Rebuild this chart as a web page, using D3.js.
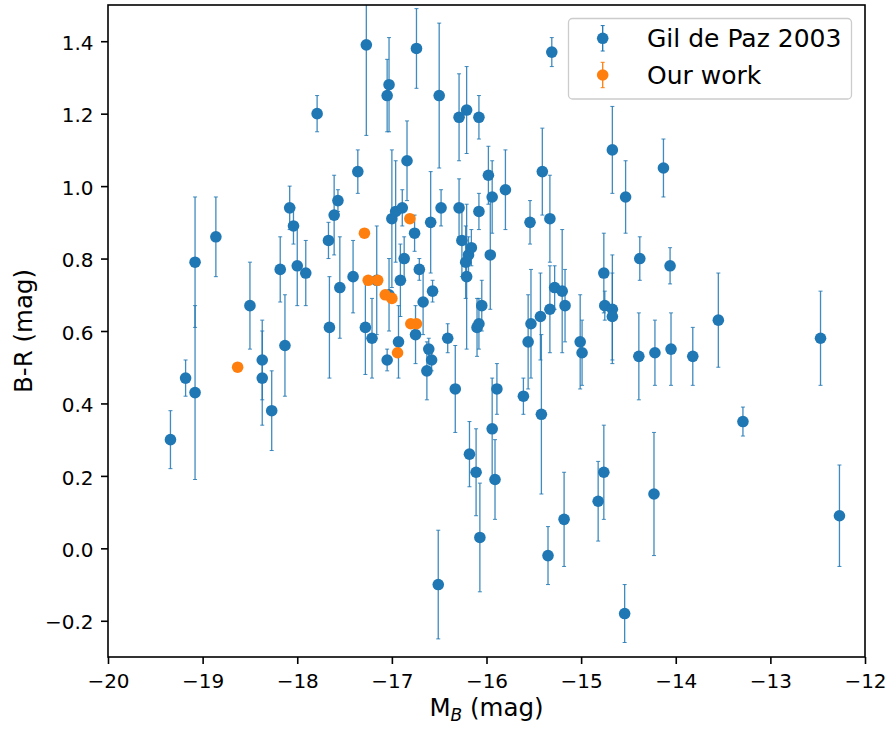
<!DOCTYPE html>
<html>
<head>
<meta charset="utf-8">
<script src="https://cdn.jsdelivr.net/npm/d3@7"></script>
<style>
  body { margin: 0; background: #fff; }
  text { font-family: "DejaVu Sans", sans-serif; fill: #000; }
</style>
</head>
<body>
<div id="chart"></div>
<script>
// Gil de Paz 2003 sample: absolute B magnitude, B-R colour and its error
const gilMB = [-19.34, -19.18, -19.08, -19.08, -18.86, -18.50, -18.37, -18.37, -18.27, -18.13,
  -18.18, -18.08, -18.04, -18.00, -17.91, -17.79, -17.67, -17.66, -17.61, -17.57,
  -17.55, -17.41, -17.36, -17.28, -17.27, -17.21, -17.05, -17.03, -17.05, -17.00,
  -16.96, -16.91, -16.93, -16.87, -16.89, -16.84, -16.76, -16.74, -16.71, -16.75,
  -16.67, -16.63, -16.61, -16.58, -16.59, -16.57, -16.51, -16.50, -16.48, -16.41,
  -16.33, -16.29, -16.29, -16.26, -16.21, -16.22, -16.21, -16.19, -16.18, -16.16,
  -16.11, -16.10, -16.08, -16.08, -16.08, -16.07, -16.05, -15.98, -15.96, -15.94,
  -15.94, -15.91, -15.89, -15.80, -15.61, -15.56, -15.54, -15.53, -15.43, -15.42,
  -15.41, -15.35, -15.33, -15.33, -15.31, -15.28, -15.20, -15.18, -15.17, -15.01,
  -14.99, -14.82, -14.76, -14.76, -14.75, -14.67, -14.67, -14.67, -14.53, -14.54,
  -14.38, -14.39, -14.23, -14.22, -14.13, -14.06, -14.05, -13.82, -13.55, -13.29,
  -12.47, -12.27, -17.03, -17.16];
const gilBR = [0.30, 0.47, 0.79, 0.43, 0.86, 0.67, 0.52, 0.47, 0.38, 0.56,
  0.77, 0.94, 0.89, 0.78, 0.76, 1.20, 0.85, 0.61, 0.92, 0.96,
  0.72, 0.75, 1.04, 0.61, 1.39, 0.58, 1.25, 1.28, 0.52, 0.91,
  0.93, 0.74, 0.57, 0.80, 0.94, 1.07, 0.87, 1.38, 0.77, 0.59,
  0.68, 0.49, 0.55, 0.52, 0.90, 0.71, -0.10, 1.25, 0.94, 0.58,
  0.44, 1.19, 0.94, 0.85, 1.21, 0.79, 0.75, 0.81, 0.26, 0.83,
  0.21, 0.61, 0.62, 1.19, 0.93, 0.03, 0.67, 1.03, 0.81, 0.33,
  0.97, 0.19, 0.44, 0.99, 0.42, 0.57, 0.90, 0.62, 0.64, 0.37,
  1.04, -0.02, 0.91, 0.66, 1.37, 0.72, 0.71, 0.08, 0.67, 0.57,
  0.54, 0.13, 0.76, 0.21, 0.67, 0.66, 0.64, 1.10, 0.97, -0.18,
  0.80, 0.53, 0.15, 0.54, 1.05, 0.78, 0.55, 0.53, 0.63, 0.35,
  0.58, 0.09, 0.70, 0.74];
const gilErr = [0.08, 0.05, 0.18, 0.24, 0.11, 0.12, 0.11, 0.13, 0.11, 0.14,
  0.09, 0.06, 0.05, 0.11, 0.09, 0.05, 0.05, 0.14, 0.11, 0.03,
  0.14, 0.10, 0.06, 0.13, 0.25, 0.11, 0.10, 0.13, 0.03, 0.19,
  0.14, 0.10, 0.10, 0.06, 0.05, 0.11, 0.05, 0.11, 0.03, 0.08,
  0.09, 0.08, 0.03, 0.03, 0.14, 0.03, 0.15, 0.20, 0.05, 0.04,
  0.12, 0.12, 0.08, 0.10, 0.12, 0.10, 0.20, 0.05, 0.09, 0.05,
  0.12, 0.08, 0.07, 0.06, 0.05, 0.15, 0.07, 0.08, 0.15, 0.14,
  0.10, 0.11, 0.07, 0.11, 0.05, 0.13, 0.06, 0.15, 0.12, 0.22,
  0.12, 0.08, 0.12, 0.12, 0.04, 0.06, 0.17, 0.13, 0.10, 0.13,
  0.09, 0.11, 0.11, 0.13, 0.04, 0.15, 0.12, 0.12, 0.10, 0.08,
  0.06, 0.12, 0.17, 0.09, 0.08, 0.05, 0.10, 0.08, 0.13, 0.04,
  0.13, 0.14, 0.10, 0.15];

// our sample
const ourMB = [-18.63, -17.29, -17.25, -17.15, -17.07, -17.00, -16.94, -16.81, -16.80, -16.74];
const ourBR = [0.50, 0.87, 0.74, 0.74, 0.70, 0.69, 0.54, 0.91, 0.62, 0.62];

const xTicks = [-20, -19, -18, -17, -16, -15, -14, -13, -12];
const yTicks = [-0.2, 0, 0.2, 0.4, 0.6, 0.8, 1.0, 1.2, 1.4];
const seriesNames = ["Gil de Paz 2003", "Our work"];
const colors = ["#1f77b4", "#ff7f0e"];

var W = 889, H = 731;
var plot = { left: 108, right: 865, top: 5, bottom: 657 };

const xScale = d3.scaleLinear().domain([-20, -12]).range([plot.left, plot.right]);
const yScale = d3.scaleLinear().domain([-0.3, 1.5]).range([plot.bottom, plot.top]);

var svg = d3.select("#chart").append("svg")
  .attr("width", W)
  .attr("height", H);

svg.append("clipPath").attr("id", "clip")
  .append("rect")
  .attr("x", plot.left).attr("y", plot.top)
  .attr("width", plot.right - plot.left)
  .attr("height", plot.bottom - plot.top);

var area = svg.append("g").attr("clip-path", "url(#clip)");

// error bars + points for one series
function drawSeries(mb, br, err, color) {
  var g = area.append("g");
  var cap = 2;
  if (err) {
    mb.forEach(function (m, i) {
      var cx = xScale(m);
      var y1 = yScale(br[i] - err[i]), y2 = yScale(br[i] + err[i]);
      g.append("line").attr("x1", cx).attr("x2", cx).attr("y1", y1).attr("y2", y2)
        .attr("stroke", color).attr("stroke-width", 1.3).attr("stroke-opacity", 0.85);
      [y1, y2].forEach(function (yy) {
        g.append("line").attr("x1", cx - cap).attr("x2", cx + cap).attr("y1", yy).attr("y2", yy)
          .attr("stroke", color).attr("stroke-width", 1).attr("stroke-opacity", 0.85);
      });
    });
  }
  g.selectAll("circle")
    .data(mb)
    .enter()
    .append("circle")
    .attr("cx", (d) => xScale(d))
    .attr("cy", (d, i) => yScale(br[i]))
    .attr("r", 5.8)
    .style("fill", color);
}

drawSeries(gilMB, gilBR, gilErr, colors[0]);
drawSeries(ourMB, ourBR, null, colors[1]);

// axes
const xAxis = d3.axisBottom(xScale).tickValues(xTicks).tickSize(7).tickPadding(10)
  .tickFormat(d3.format("d"));
const yAxis = d3.axisLeft(yScale).tickValues(yTicks).tickSize(7).tickPadding(7.5)
  .tickFormat(d3.format(".1f"));

var gx = svg.append("g")
  .attr("transform", "translate(0," + plot.bottom + ")")
  .call(xAxis);
var gy = svg.append("g")
  .attr("transform", "translate(" + plot.left + ",0)")
  .call(yAxis);

[gx, gy].forEach(function (g) {
  g.select(".domain").remove();
  g.selectAll(".tick line").attr("stroke", "#000").attr("stroke-width", 1.6);
  g.selectAll(".tick text").attr("fill", "#000")
    .style("font-size", "20px").style("font-family", "'DejaVu Sans', sans-serif");
});
gy.selectAll(".tick text").attr("dy", "0.41em");

svg.append("rect")
  .attr("x", plot.left).attr("y", plot.top)
  .attr("width", plot.right - plot.left)
  .attr("height", plot.bottom - plot.top)
  .attr("fill", "none").attr("stroke", "#000").attr("stroke-width", 1.6);

// axis labels
var xl = svg.append("text")
  .attr("x", (plot.left + plot.right) / 2)
  .attr("y", 716)
  .attr("text-anchor", "middle")
  .style("font-size", "24.5px");
xl.append("tspan").text("M");
xl.append("tspan").attr("dy", 5).style("font-size", "17px").style("font-style", "italic").text("B");
xl.append("tspan").attr("dy", -5).text(" (mag)");

svg.append("text")
  .attr("transform", "translate(32," + (plot.top + plot.bottom) / 2 + ") rotate(-90)")
  .attr("text-anchor", "middle")
  .style("font-size", "24.5px")
  .text("B-R (mag)");

// legend
var lg = svg.append("g");
lg.append("rect")
  .attr("x", 568.5).attr("y", 18.5)
  .attr("width", 283).attr("height", 80.5)
  .attr("rx", 4)
  .attr("fill", "#fff").attr("fill-opacity", 0.8)
  .attr("stroke", "#cccccc").attr("stroke-width", 1.3);

seriesNames.forEach(function (name, i) {
  var ly = 38.3 + i * 36.7, lx = 602.7;
  lg.append("line").attr("x1", lx).attr("x2", lx).attr("y1", ly - 12.7).attr("y2", ly + 12.7)
    .attr("stroke", colors[i]).attr("stroke-width", 1.3);
  [ly - 12.7, ly + 12.7].forEach(function (yy) {
    lg.append("line").attr("x1", lx - 2).attr("x2", lx + 2).attr("y1", yy).attr("y2", yy)
      .attr("stroke", colors[i]).attr("stroke-width", 1);
  });
  lg.append("circle").attr("cx", lx).attr("cy", ly).attr("r", 5.8).style("fill", colors[i]);
  lg.append("text").attr("x", 647).attr("y", ly + 9)
    .style("font-size", "25px").text(name);
});
</script>
</body>
</html>
